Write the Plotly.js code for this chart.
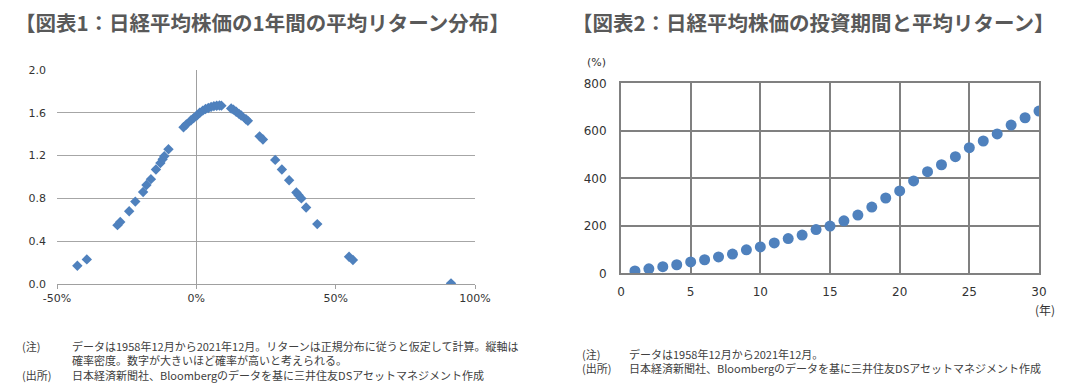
<!DOCTYPE html>
<html>
<head>
<meta charset="utf-8">
<script src="https://cdn.plot.ly/plotly-3.0.1.min.js"></script>
<style>html,body{margin:0;padding:0;background:#fff;}#chart{width:1087px;height:391px;}</style>
</head>
<body>
<div id="chart"></div>
<script>
// Chart 1: 1-year return (fraction) vs probability density
const returns1 = [-0.427,-0.393,-0.283,-0.273,-0.241,-0.219,-0.191,-0.179,-0.163,-0.145,-0.129,-0.121,-0.115,-0.100,
  -0.046,-0.036,-0.019,-0.010,0.002,0.012,0.023,0.033,0.043,0.053,0.063,0.073,0.083,0.090,
  0.125,0.133,0.143,0.153,0.161,0.178,0.185,0.227,0.239,0.283,0.307,0.333,0.359,0.367,0.377,0.394,0.434,0.548,0.562,0.914];
const density1 = [0.17,0.23,0.55,0.58,0.68,0.77,0.86,0.925,0.98,1.07,1.13,1.165,1.195,1.26,
  1.465,1.49,1.53,1.55,1.575,1.60,1.62,1.635,1.645,1.655,1.662,1.666,1.668,1.667,
  1.64,1.63,1.61,1.59,1.575,1.54,1.525,1.38,1.35,1.16,1.07,0.97,0.855,0.83,0.80,0.715,0.56,0.255,0.224,0.006];
const xTickVals1 = [-0.5, 0, 0.5, 1.0];
const xTickText1 = ['-50%', '0%', '50%', '100%'];

// Chart 2: investment period (years) vs average return (%)
const years2 = [1,2,3,4,5,6,7,8,9,10,11,12,13,14,15,16,17,18,19,20,21,22,23,24,25,26,27,28,29,30];
const avgReturn2 = [10,19,28,36,48,57,69,81,99,111,128,146,161,184,199,221,245,279,317,347,389,428,457,491,529,557,587,624,655,683];

const W = 1087, H = 391;
const px = v => v / W;
const py = v => 1 - v / H;

const tickFont = {family: 'DejaVu Sans, Verdana, sans-serif', size: 11, color: '#333333'};
const cjk = 'Noto Sans CJK JP, sans-serif';
const noteFont = {family: cjk, size: 11, color: '#404040'};
const blue = '#4F81BD';

const data = [
  {x: returns1, y: density1, type: 'scatter', mode: 'markers', xaxis: 'x', yaxis: 'y',
   marker: {symbol: 'diamond', size: 8, color: blue}, hoverinfo: 'x+y'},
  {x: years2, y: avgReturn2, type: 'scatter', mode: 'markers', xaxis: 'x2', yaxis: 'y2',
   marker: {symbol: 'circle', size: 11, color: blue}, hoverinfo: 'x+y'}
];

const layout = {
  width: W, height: H,
  margin: {l: 0, r: 0, t: 0, b: 0},
  paper_bgcolor: '#ffffff', plot_bgcolor: '#ffffff',
  showlegend: false,
  xaxis: {
    domain: [px(57), px(475)], range: [-0.5, 1.0], tickmode: 'array', tickvals: xTickVals1, ticktext: xTickText1,
    showgrid: false, zeroline: true, zerolinecolor: '#A0A0A0', zerolinewidth: 1.5,
    showline: true, linecolor: '#A0A0A0', linewidth: 1.2,
    ticks: 'outside', ticklen: 4, tickcolor: '#A0A0A0',
    tickfont: tickFont, anchor: 'y', fixedrange: true
  },
  yaxis: {
    domain: [py(284), py(70)], range: [0, 2.0], dtick: 0.4, tickformat: '.1f',
    showgrid: true, gridcolor: '#A6A6A6', gridwidth: 1.3,
    zeroline: false, showline: false, ticks: '', ticklabelstandoff: 10,
    tickfont: tickFont, anchor: 'x', fixedrange: true
  },
  xaxis2: {
    domain: [px(621), px(1039)], range: [0, 30], dtick: 5,
    showgrid: true, gridcolor: '#808080', gridwidth: 2,
    zeroline: false, showline: true, linecolor: '#808080', linewidth: 2, mirror: true,
    ticks: '', ticklabelstandoff: 6,
    tickfont: Object.assign({}, tickFont, {size: 12}), anchor: 'y2', fixedrange: true
  },
  yaxis2: {
    domain: [py(273.3), py(83.3)], range: [0, 800], dtick: 200,
    showgrid: true, gridcolor: '#808080', gridwidth: 2,
    zeroline: false, showline: true, linecolor: '#808080', linewidth: 2, mirror: true,
    ticks: '', ticklabelstandoff: 10,
    tickfont: Object.assign({}, tickFont, {size: 12}), anchor: 'x2', fixedrange: true
  },
  annotations: [
    {text: '<b>【図表1：日経平均株価の1年間の平均リターン分布】</b>', xref: 'paper', yref: 'paper',
     x: px(13), y: py(22), xanchor: 'left', yanchor: 'middle', showarrow: false,
     font: {family: cjk, size: 20.5, color: '#595959'}},
    {text: '<b>【図表2：日経平均株価の投資期間と平均リターン】</b>', xref: 'paper', yref: 'paper',
     x: px(570), y: py(22), xanchor: 'left', yanchor: 'middle', showarrow: false,
     font: {family: cjk, size: 20.5, color: '#595959'}},
    {text: '(%)', xref: 'paper', yref: 'paper', x: px(597), y: py(62), xanchor: 'center', yanchor: 'middle',
     showarrow: false, font: {family: 'DejaVu Sans, sans-serif', size: 11, color: '#333333'}},
    {text: '(年)', xref: 'paper', yref: 'paper', x: px(1045), y: py(309), xanchor: 'center', yanchor: 'middle',
     showarrow: false, font: {family: cjk, size: 12, color: '#333333'}},
    // Chart 1 notes
    {text: '(注)<br> <br>(出所)', xref: 'paper', yref: 'paper', x: px(20), y: py(336), xanchor: 'left', yanchor: 'top',
     align: 'left', showarrow: false, font: noteFont},
    {text: 'データは1958年12月から2021年12月。リターンは正規分布に従うと仮定して計算。縦軸は<br>確率密度。数字が大きいほど確率が高いと考えられる。<br>日本経済新聞社、Bloombergのデータを基に三井住友DSアセットマネジメント作成',
     xref: 'paper', yref: 'paper', x: px(70), y: py(336), xanchor: 'left', yanchor: 'top', align: 'left',
     showarrow: false, font: noteFont},
    // Chart 2 notes
    {text: '(注)<br>(出所)', xref: 'paper', yref: 'paper', x: px(580), y: py(344), xanchor: 'left', yanchor: 'top',
     align: 'left', showarrow: false, font: noteFont},
    {text: 'データは1958年12月から2021年12月。<br>日本経済新聞社、Bloombergのデータを基に三井住友DSアセットマネジメント作成',
     xref: 'paper', yref: 'paper', x: px(627), y: py(344), xanchor: 'left', yanchor: 'top', align: 'left',
     showarrow: false, font: noteFont}
  ]
};

Plotly.newPlot('chart', data, layout, {displayModeBar: false, staticPlot: true});
</script>
</body>
</html>
